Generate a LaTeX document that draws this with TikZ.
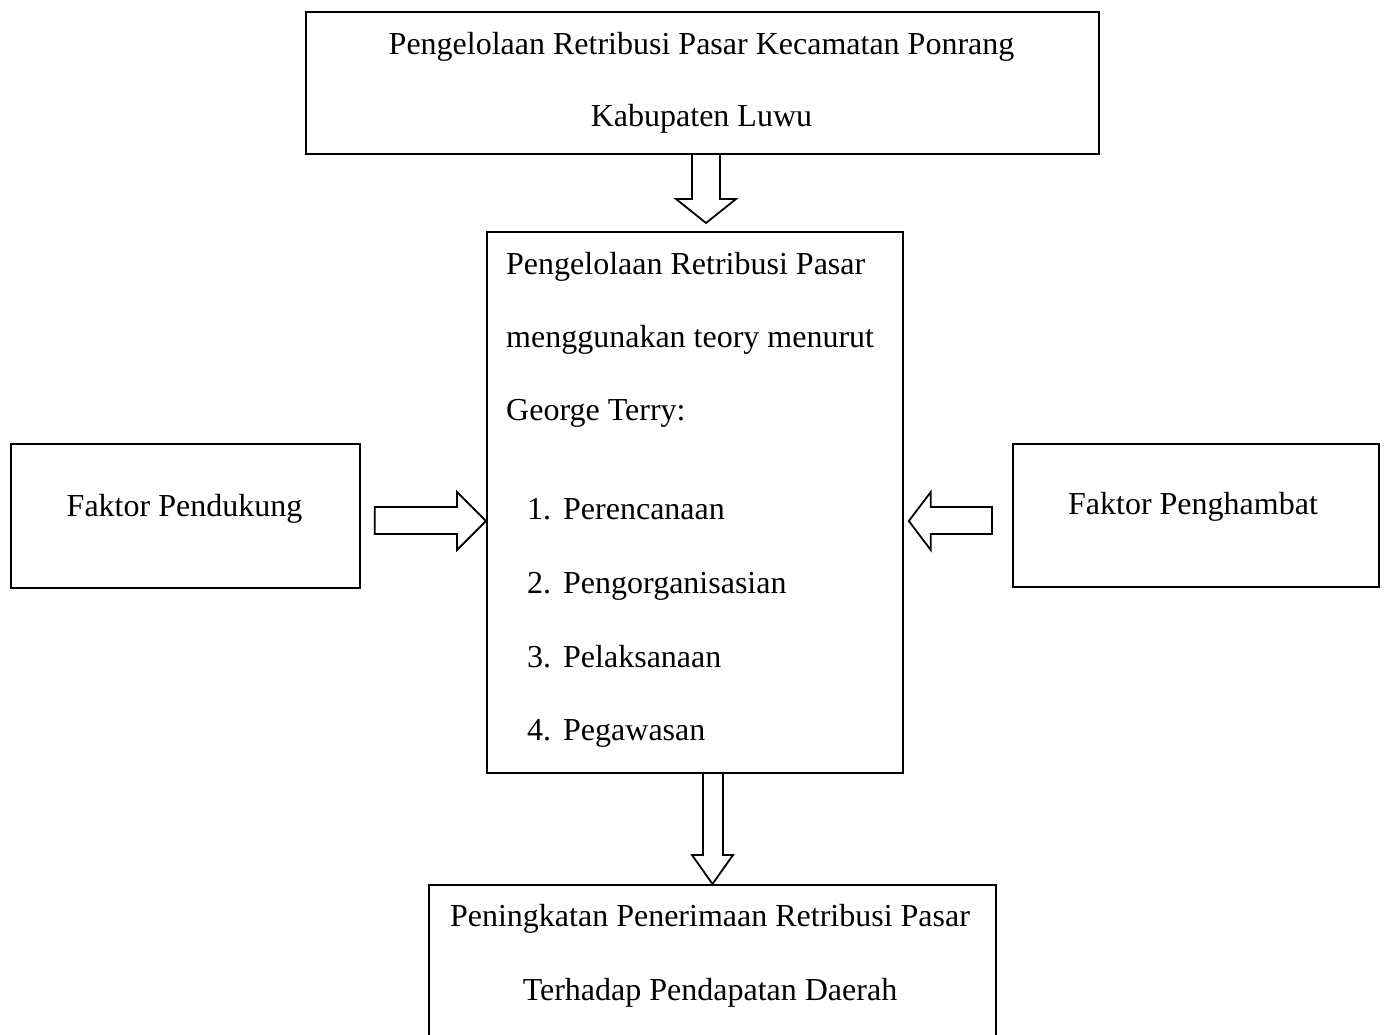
\documentclass[tikz,border=0pt]{standalone}
\usepackage{fontspec}
\setmainfont{Liberation Serif}
\usetikzlibrary{calc}
\begin{document}
\begin{tikzpicture}[x=1pt,y=-1pt,
  box/.style={draw,line width=1.8pt,rectangle,inner sep=0pt,anchor=north west},
  txt/.style={anchor=base,inner sep=0pt,font=\fontsize{32}{38}\selectfont},
  txtl/.style={txt,anchor=base west},
  barrow/.style={draw,line width=1.8pt,line join=miter}]
\useasboundingbox (0,0) rectangle (1386,1035);
\clip (0,0) rectangle (1386,1035);
% boxes
\node[box,minimum width=793pt,minimum height=142pt] (top) at (305,11) {};
\node[box,minimum width=416pt,minimum height=541pt] (mid) at (486,231) {};
\node[box,minimum width=349pt,minimum height=144pt] (left) at (10,443) {};
\node[box,minimum width=366pt,minimum height=143pt] (right) at (1012,443) {};
\node[box,minimum width=567pt,minimum height=170pt] (bot) at (428,884) {};
% texts
\node[txt] (t1a) at (701.5,55) {Pengelolaan Retribusi Pasar Kecamatan Ponrang};
\node[txt] (t1b) at (701.5,127) {Kabupaten Luwu};
\node[txtl] (m1) at (506,274) {Pengelolaan Retribusi Pasar};
\node[txtl] (m2) at (506,347) {menggunakan teory menurut};
\node[txtl] (m3) at (506,420) {George Terry:};
\node[txtl] (i1) at (527,519) {\makebox[36pt][l]{1.}Perencanaan};
\node[txtl] (i2) at (527,593) {\makebox[36pt][l]{2.}Pengorganisasian};
\node[txtl] (i3) at (527,667) {\makebox[36pt][l]{3.}Pelaksanaan};
\node[txtl] (i4) at (527,740) {\makebox[36pt][l]{4.}Pegawasan};
\node[txt] (lt) at (184.5,516) {Faktor Pendukung};
\node[txt] (rt) at (1193,514) {Faktor Penghambat};
\node[txt] (b1) at (710,926) {Peningkatan Penerimaan Retribusi Pasar};
\node[txt] (b2) at (710,1000) {Terhadap Pendapatan Daerah};
% block arrows
\draw[barrow] let \p1=(top.south), \p2=(mid.north) in
  (692pt,\y1) -- (692pt,\y2+32pt) -- (676pt,\y2+32pt) -- (706pt,\y2+8pt)
  -- (736pt,\y2+32pt) -- (720pt,\y2+32pt) -- (720pt,\y1);
\draw[barrow] let \p1=(left.east), \p2=(mid.west) in
  (\x1+14pt,-507pt) -- (\x2-29pt,-507pt) -- (\x2-29pt,-492pt) -- (\x2,-521pt)
  -- (\x2-29pt,-550pt) -- (\x2-29pt,-534pt) -- (\x1+14pt,-534pt) -- cycle;
\draw[barrow] let \p1=(right.west), \p2=(mid.east) in
  (\x1-20pt,-507pt) -- (\x2+27pt,-507pt) -- (\x2+27pt,-492pt) -- (\x2+5pt,-521pt)
  -- (\x2+27pt,-550pt) -- (\x2+27pt,-534pt) -- (\x1-20pt,-534pt) -- cycle;
\draw[barrow] let \p1=(mid.south), \p2=(bot.north) in
  (703pt,\y1) -- (703pt,\y2+29pt) -- (692pt,\y2+29pt) -- (712.5pt,\y2)
  -- (733pt,\y2+29pt) -- (723pt,\y2+29pt) -- (723pt,\y1);
\end{tikzpicture}
\end{document}
